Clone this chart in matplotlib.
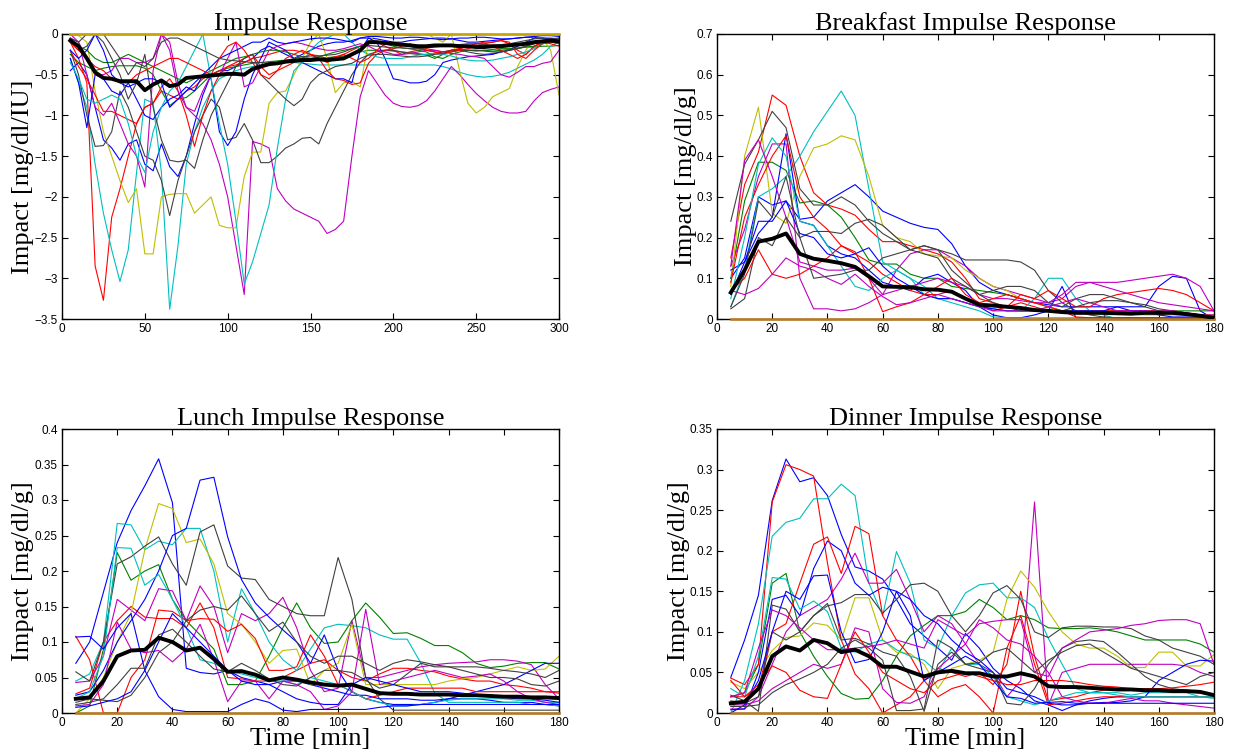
import numpy as np
import matplotlib
matplotlib.use("Agg")
import matplotlib.pyplot as plt
from matplotlib.ticker import FuncFormatter, MultipleLocator

# sample times (min)
t_ins = np.arange(5, 305, 5)     # insulin panel, 5..300
t_meal = np.arange(5, 185, 5)    # meal panels, 5..180

# matlab default colour order
C = {'b': (0, 0, 1), 'g': (0, 0.5, 0), 'r': (1, 0, 0), 'c': (0, 0.75, 0.75),
     'm': (0.75, 0, 0.75), 'y': (0.75, 0.75, 0), 'k': (0.25, 0.25, 0.25)}

# ---------------- insulin impulse responses ----------------
ins_blue1 = [-0.45, -0.35, -0.5, -0.9, -1.3, -1.4, -1.55, -1.35, -1.3, -1.6,
             -1.68, -1.35, -1.63, -1.75, -1.5, -1.1, -0.75, -0.5, -0.45, -0.45,
             -0.4, -0.35, -0.3, -0.2, -0.15, -0.2, -0.25, -0.3, -0.25, -0.2,
             -0.15, -0.12, -0.1, -0.1, -0.08, -0.05, -0.05, -0.06, -0.08, -0.1,
             -0.1, -0.08, -0.07, -0.06, -0.05, -0.05, -0.06, -0.08, -0.1, -0.1,
             -0.09, -0.08, -0.07, -0.06, -0.05, -0.04, -0.04, -0.05, -0.06, -0.05]
ins_green1 = [-0.25, -0.35, -0.4, -0.45, -0.42, -0.4, -0.39, -0.39, -0.39, -0.42,
              -0.5, -0.7, -0.88, -0.8, -0.78, -0.7, -0.6, -0.5, -0.45, -0.42,
              -0.4, -0.38, -0.36, -0.35, -0.34, -0.33, -0.32, -0.31, -0.3, -0.3,
              -0.3, -0.29, -0.28, -0.27, -0.25, -0.22, -0.2, -0.2, -0.2, -0.21,
              -0.22, -0.23, -0.24, -0.26, -0.3, -0.25, -0.2, -0.19, -0.2, -0.21,
              -0.2, -0.19, -0.18, -0.18, -0.17, -0.16, -0.16, -0.15, -0.15, -0.14]
ins_red1 = [-0.1, -0.3, -0.6, -2.85, -3.27, -2.25, -1.9, -1.5, -1.1, -0.9,
            -0.85, -0.7, -0.75, -0.8, -0.7, -0.65, -0.55, -0.5, -0.45, -0.4,
            -0.38, -0.35, -0.3, -0.28, -0.25, -0.22, -0.2, -0.2, -0.22, -0.25,
            -0.27, -0.3, -0.28, -0.25, -0.2, -0.15, -0.12, -0.1, -0.15, -0.2,
            -0.25, -0.22, -0.2, -0.18, -0.2, -0.22, -0.2, -0.18, -0.15, -0.12,
            -0.1, -0.1, -0.08, -0.12, -0.2, -0.25, -0.15, -0.1, -0.08, -0.1]
ins_cyan1 = [-0.3, -0.6, -0.9, -1.6, -2.2, -2.65, -3.04, -2.65, -1.7, -0.8,
             -0.85, -1.7, -3.38, -2.6, -1.6, -1.2, -0.9, -0.7, -0.55, -0.5,
             -0.45, -0.42, -0.4, -0.38, -0.36, -0.35, -0.34, -0.35, -0.36, -0.37,
             -0.38, -0.38, -0.38, -0.38, -0.38, -0.38, -0.38, -0.38, -0.38, -0.38,
             -0.38, -0.38, -0.38, -0.38, -0.38, -0.4, -0.43, -0.47, -0.5, -0.52,
             -0.53, -0.52, -0.5, -0.47, -0.42, -0.37, -0.32, -0.25, -0.15, -0.1]
ins_mag1 = [-0.05, -0.1, -0.5, -0.9, -1.0, -0.85, -1.1, -1.35, -1.5, -1.88,
            -0.45, 0.0, -0.1, -0.6, -0.9, -1.0, -1.1, -1.3, -1.6, -2.0,
            -2.6, -3.2, -1.32, -1.35, -1.4, -1.9, -2.05, -2.15, -2.2, -2.25,
            -2.3, -2.45, -2.4, -2.3, -1.5, -0.77, -0.45, -0.6, -0.75, -0.85,
            -0.89, -0.9, -0.88, -0.82, -0.7, -0.55, -0.4, -0.5, -0.62, -0.73,
            -0.82, -0.9, -0.95, -0.97, -0.97, -0.95, -0.82, -0.72, -0.68, -0.65]
ins_yel1 = [0.0, -0.02, -0.1, -0.7, -1.2, -1.5, -1.8, -2.07, -1.9, -2.7,
            -2.7, -2.0, -1.97, -1.96, -1.96, -2.2, -2.1, -2.0, -2.35, -2.38,
            -2.38, -1.75, -1.45, -1.45, -0.85, -0.72, -0.7, -0.5, -0.3, -0.1,
            0.0, -0.3, -0.72, -0.6, -0.58, -0.65, -0.1, 0.0, 0.0, 0.0,
            0.0, -0.02, 0.0, 0.0, -0.05, -0.1, 0.0, -0.45, -0.85, -0.97,
            -0.9, -0.77, -0.72, -0.67, -0.4, -0.2, -0.03, -0.05, -0.2, -0.75]
ins_gray1 = [-0.2, -0.5, -1.0, -1.38, -1.37, -1.2, -0.7, -0.9, -1.2, -1.5,
             -1.55, -1.8, -2.23, -1.8, -1.5, -1.2, -1.0, -0.8, -0.9, -1.3,
             -1.27, -1.1, -1.3, -1.58, -1.58, -1.5, -1.4, -1.35, -1.28, -1.27,
             -1.35, -1.1, -0.9, -0.7, -0.5, -0.35, -0.25, -0.22, -0.2, -0.2,
             -0.22, -0.24, -0.25, -0.25, -0.24, -0.22, -0.2, -0.2, -0.22, -0.24,
             -0.25, -0.24, -0.22, -0.2, -0.18, -0.15, -0.12, -0.1, -0.1, -0.12]
ins_blue2 = [-0.3, -0.6, -1.15, -0.5, -0.55, -0.7, -0.75, -0.6, -0.8, -1.0,
             -1.05, -0.9, -0.8, -0.75, -0.65, -0.7, -0.5, -0.55, -1.2, -1.37,
             -1.2, -0.8, -0.5, -0.3, -0.1, -0.15, -0.2, -0.3, -0.35, -0.4,
             -0.45, -0.5, -0.55, -0.55, -0.6, -0.2, -0.05, -0.1, -0.3, -0.55,
             -0.57, -0.6, -0.6, -0.58, -0.5, -0.35, -0.32, -0.3, -0.28, -0.27,
             -0.26, -0.25, -0.22, -0.2, -0.15, -0.1, -0.05, -0.05, -0.08, -0.1]
ins_green2 = [-0.1, -0.15, -0.2, -0.3, -0.35, -0.35, -0.3, -0.25, -0.3, -0.35,
              -0.4, -0.45, -0.5, -0.55, -0.6, -0.55, -0.5, -0.45, -0.4, -0.35,
              -0.3, -0.28, -0.25, -0.22, -0.2, -0.2, -0.22, -0.25, -0.28, -0.3,
              -0.28, -0.25, -0.22, -0.2, -0.18, -0.15, -0.12, -0.1, -0.12, -0.15,
              -0.17, -0.18, -0.2, -0.22, -0.28, -0.3, -0.25, -0.22, -0.2, -0.2,
              -0.2, -0.21, -0.2, -0.19, -0.18, -0.16, -0.15, -0.12, -0.1, -0.1]
ins_red2 = [-0.2, -0.4, -0.55, -0.75, -0.95, -0.95, -1.0, -1.05, -1.1, -0.9,
            -0.85, -0.65, -0.55, -0.7, -1.0, -1.38, -1.0, -0.7, -0.5, -0.4,
            -0.35, -0.3, -0.25, -0.4, -0.5, -0.45, -0.4, -0.35, -0.3, -0.25,
            -0.3, -0.45, -0.55, -0.57, -0.62, -0.6, -0.36, -0.25, -0.2, -0.18,
            -0.15, -0.12, -0.15, -0.2, -0.22, -0.25, -0.2, -0.18, -0.15, -0.12,
            -0.12, -0.15, -0.2, -0.25, -0.3, -0.25, -0.15, -0.1, -0.12, -0.15]
ins_cyan2 = [-0.35, -0.55, -0.8, -0.85, -0.8, -0.75, -0.8, -1.1, -1.5, -1.7,
             -1.2, -0.9, -0.7, -0.6, -0.4, -0.2, 0.0, -0.55, -1.1, -1.6,
             -2.3, -3.07, -2.8, -2.45, -2.1, -1.4, -0.8, -0.45, -0.35, -0.2,
             -0.1, -0.05, 0.0, 0.0, -0.1, -0.2, -0.25, -0.28, -0.3, -0.3,
             -0.3, -0.28, -0.26, -0.25, -0.24, -0.25, -0.27, -0.3, -0.32, -0.33,
             -0.33, -0.32, -0.3, -0.28, -0.25, -0.22, -0.18, -0.12, -0.08, -0.05]
ins_mag2 = [0.0, -0.1, -0.3, -0.5, -0.5, -0.45, -0.3, -0.3, -0.35, -0.35,
            -0.3, 0.0, -0.2, -0.7, -0.9, -0.95, -0.7, -0.5, -0.5, -0.3,
            -0.1, -0.65, -0.6, -0.4, -0.2, -0.15, -0.12, -0.1, -0.12, -0.15,
            -0.18, -0.2, -0.2, -0.18, -0.15, -0.12, -0.15, -0.2, -0.22, -0.25,
            -0.25, -0.24, -0.22, -0.2, -0.2, -0.22, -0.24, -0.25, -0.27, -0.28,
            -0.3, -0.4, -0.5, -0.53, -0.47, -0.4, -0.4, -0.36, -0.34, -0.2]
ins_gray2 = [-0.1, -0.2, -0.15, 0.0, -0.1, -0.3, -0.5, -0.8, -0.6, -0.25,
             -0.9, -1.3, -1.55, -1.57, -1.55, -1.65, -1.3, -1.0, -0.8, -0.6,
             -0.4, -0.3, -0.25, -0.5, -0.6, -0.7, -0.8, -0.88, -0.8, -0.6,
             -0.5, -0.45, -0.4, -0.38, -0.36, -0.3, -0.26, -0.25, -0.25, -0.26,
             -0.27, -0.28, -0.28, -0.27, -0.25, -0.24, -0.22, -0.2, -0.2, -0.2,
             -0.21, -0.22, -0.22, -0.2, -0.18, -0.15, -0.12, -0.1, -0.1, -0.1]
ins_gray3 = [-0.05, -0.1, 0.0, 0.0, 0.0, -0.15, -0.3, -0.5, -0.35, -0.4,
             -0.3, -0.1, -0.05, -0.05, -0.1, -0.15, -0.2, -0.25, -0.3, -0.32,
             -0.33, -0.34, -0.35, -0.35, -0.36, -0.35, -0.33, -0.3, -0.28, -0.27,
             -0.27, -0.26, -0.25, -0.22, -0.18, -0.15, -0.14, -0.15, -0.16, -0.17,
             -0.17, -0.18, -0.18, -0.17, -0.16, -0.15, -0.14, -0.13, -0.12, -0.12,
             -0.13, -0.14, -0.13, -0.12, -0.1, -0.08, -0.06, -0.05, -0.05, -0.06]
ins_blue3 = [-0.2, -0.3, -0.2, 0.0, -0.2, -0.5, -0.6, -0.65, -0.6, -0.55,
             -0.55, -0.6, -0.9, -0.8, -0.7, -0.6, -0.5, -0.4, -0.3, -0.25,
             -0.2, -0.15, -0.1, -0.1, -0.05, -0.1, -0.12, -0.1, -0.08, -0.06,
             -0.05, -0.05, -0.06, -0.08, -0.1, -0.05, -0.03, -0.03, -0.04, -0.05,
             -0.05, -0.04, -0.04, -0.05, -0.06, -0.07, -0.06, -0.05, -0.05, -0.04,
             -0.04, -0.05, -0.06, -0.06, -0.05, -0.04, -0.03, -0.02, -0.02, -0.03]
ins_red3 = [-0.1, -0.2, -0.3, -0.4, -0.45, -0.55, -0.6, -0.6, -0.5, -0.45,
            -0.4, -0.35, -0.3, -0.3, -0.35, -0.4, -0.45, -0.5, -0.3, -0.15,
            -0.1, -0.2, -0.35, -0.5, -0.55, -0.45, -0.3, -0.25, -0.2, -0.25,
            -0.3, -0.35, -0.3, -0.25, -0.3, -0.35, -0.3, -0.2, -0.12, -0.1,
            -0.12, -0.15, -0.18, -0.2, -0.22, -0.24, -0.22, -0.2, -0.18, -0.15,
            -0.12, -0.1, -0.08, -0.1, -0.25, -0.3, -0.2, -0.12, -0.1, -0.08]
ins_zero = [0.0] * 60
ins_mean = [-0.08, -0.15, -0.3, -0.47, -0.54, -0.55, -0.58, -0.58, -0.58, -0.69,
            -0.62, -0.57, -0.64, -0.62, -0.54, -0.53, -0.52, -0.51, -0.5, -0.49,
            -0.49, -0.5, -0.43, -0.4, -0.37, -0.36, -0.34, -0.33, -0.32, -0.32,
            -0.31, -0.32, -0.31, -0.3, -0.25, -0.2, -0.1, -0.1, -0.11, -0.12,
            -0.13, -0.14, -0.15, -0.15, -0.14, -0.14, -0.14, -0.15, -0.15, -0.16,
            -0.16, -0.15, -0.15, -0.14, -0.13, -0.12, -0.1, -0.09, -0.08, -0.09]

# ---------------- breakfast ----------------
bf_blue1 = [0.1, 0.15, 0.3, 0.28, 0.29, 0.245, 0.25, 0.29, 0.31, 0.33, 0.3, 0.265,
            0.25, 0.235, 0.225, 0.22, 0.185, 0.13, 0.09, 0.07, 0.06, 0.05, 0.04, 0.035,
            0.03, 0.03, 0.03, 0.03, 0.03, 0.03, 0.03, 0.08, 0.105, 0.1, 0.02, 0.0]
bf_green1 = [0.1, 0.29, 0.385, 0.385, 0.365, 0.285, 0.29, 0.28, 0.25, 0.2, 0.145, 0.135,
             0.135, 0.11, 0.1, 0.1, 0.08, 0.075, 0.07, 0.065, 0.06, 0.05, 0.04, 0.03,
             0.02, 0.02, 0.02, 0.02, 0.02, 0.02, 0.02, 0.02, 0.02, 0.02, 0.02, 0.02]
bf_red1 = [0.15, 0.33, 0.41, 0.55, 0.525, 0.4, 0.31, 0.28, 0.27, 0.255, 0.22, 0.19,
           0.19, 0.18, 0.17, 0.16, 0.14, 0.1, 0.05, 0.04, 0.03, 0.04, 0.03, 0.02,
           0.02, 0.02, 0.02, 0.02, 0.02, 0.02, 0.02, 0.02, 0.02, 0.015, 0.01, 0.01]
bf_cyan1 = [0.03, 0.12, 0.3, 0.32, 0.35, 0.4, 0.46, 0.51, 0.56, 0.5, 0.32, 0.14,
            0.12, 0.1, 0.08, 0.05, 0.05, 0.04, 0.03, 0.025, 0.02, 0.02, 0.05, 0.1,
            0.1, 0.05, 0.02, 0.01, 0.0, 0.0, 0.0, 0.0, 0.0, 0.0, 0.0, 0.0]
bf_mag1 = [0.13, 0.22, 0.35, 0.43, 0.43, 0.1, 0.025, 0.025, 0.02, 0.025, 0.04, 0.06,
           0.12, 0.16, 0.17, 0.17, 0.15, 0.13, 0.1, 0.08, 0.07, 0.06, 0.05, 0.04,
           0.05, 0.08, 0.09, 0.09, 0.09, 0.095, 0.1, 0.105, 0.11, 0.1, 0.08, 0.02]
bf_yel1 = [0.08, 0.4, 0.52, 0.26, 0.235, 0.35, 0.42, 0.43, 0.45, 0.44, 0.35, 0.23,
           0.2, 0.19, 0.16, 0.155, 0.15, 0.12, 0.1, 0.08, 0.07, 0.05, 0.04, 0.03,
           0.02, 0.02, 0.015, 0.015, 0.012, 0.012, 0.01, 0.01, 0.01, 0.01, 0.01, 0.01]
bf_gray1 = [0.24, 0.38, 0.44, 0.51, 0.47, 0.32, 0.28, 0.28, 0.3, 0.28, 0.24, 0.21,
            0.19, 0.17, 0.18, 0.17, 0.16, 0.145, 0.145, 0.145, 0.145, 0.14, 0.12, 0.07,
            0.04, 0.02, 0.01, 0.005, 0.003, 0.003, 0.003, 0.003, 0.003, 0.003, 0.003, 0.003]
bf_blue2 = [0.12, 0.14, 0.21, 0.25, 0.455, 0.24, 0.23, 0.18, 0.16, 0.15, 0.12, 0.09,
            0.08, 0.07, 0.1, 0.11, 0.09, 0.07, 0.03, 0.01, 0.003, 0.003, 0.01, 0.02,
            0.08, 0.003, 0.003, 0.003, 0.003, 0.003, 0.003, 0.003, 0.003, 0.003, 0.003, 0.003]
bf_red2 = [0.09, 0.25, 0.33, 0.4, 0.45, 0.3, 0.25, 0.22, 0.18, 0.16, 0.14, 0.11,
           0.09, 0.07, 0.06, 0.06, 0.07, 0.05, 0.04, 0.02, 0.03, 0.06, 0.05, 0.07,
           0.05, 0.03, 0.03, 0.05, 0.06, 0.065, 0.07, 0.075, 0.07, 0.06, 0.04, 0.02]
bf_cyan2 = [0.05, 0.2, 0.38, 0.445, 0.4, 0.24, 0.23, 0.18, 0.13, 0.08, 0.07, 0.1,
            0.12, 0.1, 0.06, 0.05, 0.04, 0.03, 0.02, 0.005, 0.003, 0.003, 0.003, 0.003,
            0.003, 0.003, 0.003, 0.003, 0.003, 0.003, 0.003, 0.003, 0.003, 0.003, 0.003, 0.003]
bf_mag2 = [0.13, 0.39, 0.44, 0.35, 0.25, 0.14, 0.13, 0.12, 0.12, 0.125, 0.1, 0.06,
           0.07, 0.08, 0.09, 0.1, 0.09, 0.08, 0.06, 0.05, 0.05, 0.045, 0.04, 0.04,
           0.06, 0.09, 0.09, 0.08, 0.07, 0.06, 0.05, 0.04, 0.035, 0.03, 0.025, 0.02]
bf_gray2 = [0.025, 0.05, 0.2, 0.18, 0.25, 0.2, 0.215, 0.215, 0.21, 0.235, 0.245, 0.23,
            0.2, 0.17, 0.16, 0.15, 0.1, 0.08, 0.06, 0.07, 0.08, 0.08, 0.07, 0.04,
            0.03, 0.05, 0.06, 0.06, 0.05, 0.04, 0.035, 0.025, 0.02, 0.015, 0.01, 0.005]
bf_blue3 = [0.06, 0.14, 0.24, 0.24, 0.29, 0.21, 0.2, 0.16, 0.15, 0.16, 0.175, 0.13,
            0.1, 0.08, 0.06, 0.05, 0.05, 0.04, 0.03, 0.025, 0.02, 0.02, 0.02, 0.02,
            0.02, 0.02, 0.02, 0.02, 0.03, 0.02, 0.02, 0.01, 0.005, 0.005, 0.005, 0.005]
bf_red3 = [0.07, 0.1, 0.17, 0.11, 0.1, 0.11, 0.13, 0.15, 0.18, 0.165, 0.1, 0.018,
           0.03, 0.04, 0.06, 0.08, 0.1, 0.06, 0.04, 0.05, 0.06, 0.05, 0.04, 0.03,
           0.02, 0.005, 0.003, 0.003, 0.003, 0.003, 0.003, 0.003, 0.003, 0.003, 0.003, 0.003]
bf_mag3 = [0.07, 0.06, 0.075, 0.11, 0.15, 0.13, 0.12, 0.1, 0.085, 0.11, 0.08, 0.055,
           0.035, 0.04, 0.05, 0.06, 0.05, 0.04, 0.03, 0.02, 0.02, 0.02, 0.02, 0.03,
           0.04, 0.05, 0.04, 0.03, 0.02, 0.02, 0.02, 0.02, 0.02, 0.015, 0.01, 0.01]
bf_gray3 = [0.03, 0.11, 0.29, 0.25, 0.35, 0.2, 0.1, 0.105, 0.11, 0.12, 0.12, 0.15,
            0.16, 0.17, 0.18, 0.17, 0.12, 0.09, 0.06, 0.04, 0.03, 0.02, 0.02, 0.02,
            0.02, 0.03, 0.04, 0.045, 0.045, 0.04, 0.03, 0.02, 0.015, 0.01, 0.01, 0.005]
bf_mean = [0.065, 0.12, 0.19, 0.197, 0.21, 0.16, 0.148, 0.143, 0.137, 0.128, 0.105, 0.08,
           0.079, 0.078, 0.073, 0.072, 0.067, 0.05, 0.035, 0.033, 0.03, 0.027, 0.022, 0.02,
           0.017, 0.015, 0.015, 0.015, 0.014, 0.013, 0.015, 0.015, 0.015, 0.012, 0.008, 0.003]

# ---------------- lunch ----------------
lu_blue1 = [0.07, 0.1, 0.17, 0.24, 0.285, 0.32, 0.358, 0.296, 0.063, 0.057, 0.055, 0.06,
            0.05, 0.045, 0.04, 0.045, 0.045, 0.04, 0.035, 0.03, 0.025, 0.025, 0.02, 0.02,
            0.02, 0.018, 0.018, 0.02, 0.02, 0.02, 0.018, 0.015, 0.015, 0.015, 0.012, 0.01]
lu_blue2 = [0.025, 0.03, 0.06, 0.1, 0.13, 0.16, 0.2, 0.25, 0.26, 0.328, 0.332, 0.248,
            0.188, 0.155, 0.135, 0.117, 0.1, 0.07, 0.11, 0.06, 0.03, 0.02, 0.015, 0.012,
            0.012, 0.012, 0.015, 0.02, 0.025, 0.03, 0.035, 0.04, 0.05, 0.06, 0.07, 0.07]
lu_blue3 = [0.107, 0.108, 0.09, 0.12, 0.14, 0.06, 0.023, 0.005, 0.002, 0.002, 0.002, 0.002,
            0.012, 0.02, 0.015, 0.004, 0.002, 0.005, 0.005, 0.005, 0.005, 0.005, 0.008, 0.01,
            0.01, 0.012, 0.012, 0.012, 0.012, 0.012, 0.012, 0.012, 0.012, 0.012, 0.012, 0.012]
lu_cyan1 = [0.045, 0.055, 0.1, 0.267, 0.265, 0.23, 0.242, 0.237, 0.26, 0.26, 0.2, 0.1,
            0.175, 0.14, 0.1, 0.075, 0.06, 0.09, 0.12, 0.125, 0.123, 0.12, 0.11, 0.104,
            0.104, 0.07, 0.028, 0.015, 0.015, 0.015, 0.015, 0.015, 0.015, 0.012, 0.012, 0.01]
lu_cyan2 = [0.02, 0.03, 0.08, 0.233, 0.232, 0.18, 0.195, 0.16, 0.12, 0.075, 0.07, 0.06,
            0.055, 0.05, 0.045, 0.045, 0.04, 0.05, 0.045, 0.04, 0.03, 0.02, 0.015, 0.01,
            0.01, 0.012, 0.015, 0.018, 0.02, 0.02, 0.02, 0.02, 0.018, 0.018, 0.015, 0.015]
lu_yel1 = [0.0, 0.02, 0.05, 0.1, 0.14, 0.23, 0.295, 0.288, 0.24, 0.245, 0.21, 0.14,
           0.125, 0.1, 0.07, 0.088, 0.09, 0.04, 0.06, 0.07, 0.125, 0.04, 0.04, 0.04,
           0.04, 0.04, 0.04, 0.045, 0.048, 0.05, 0.055, 0.06, 0.065, 0.06, 0.062, 0.08]
lu_gray1 = [0.058, 0.045, 0.1, 0.21, 0.22, 0.235, 0.248, 0.21, 0.18, 0.255, 0.265, 0.207,
            0.19, 0.188, 0.16, 0.15, 0.14, 0.137, 0.137, 0.219, 0.16, 0.05, 0.02, 0.004,
            0.004, 0.004, 0.004, 0.004, 0.004, 0.004, 0.004, 0.004, 0.004, 0.004, 0.004, 0.004]
lu_green1 = [0.0, 0.01, 0.09, 0.226, 0.187, 0.2, 0.209, 0.16, 0.13, 0.11, 0.09, 0.04,
             0.04, 0.045, 0.08, 0.12, 0.155, 0.12, 0.098, 0.1, 0.13, 0.155, 0.135, 0.112,
             0.113, 0.105, 0.095, 0.095, 0.085, 0.07, 0.064, 0.066, 0.07, 0.071, 0.071, 0.062]
lu_red1 = [0.027, 0.035, 0.1, 0.13, 0.15, 0.135, 0.133, 0.133, 0.12, 0.155, 0.12, 0.05,
           0.048, 0.045, 0.045, 0.05, 0.06, 0.07, 0.075, 0.06, 0.05, 0.045, 0.055, 0.063,
           0.063, 0.06, 0.058, 0.052, 0.048, 0.045, 0.045, 0.04, 0.038, 0.035, 0.03, 0.028]
lu_red2 = [0.108, 0.075, 0.0, 0.0, 0.05, 0.075, 0.145, 0.143, 0.13, 0.133, 0.132, 0.115,
           0.125, 0.105, 0.06, 0.06, 0.065, 0.11, 0.08, 0.04, 0.03, 0.02, 0.025, 0.03,
           0.035, 0.035, 0.035, 0.035, 0.035, 0.03, 0.03, 0.03, 0.03, 0.03, 0.03, 0.03]
lu_mag1 = [0.043, 0.045, 0.08, 0.16, 0.145, 0.13, 0.175, 0.172, 0.13, 0.179, 0.15, 0.085,
           0.14, 0.13, 0.14, 0.163, 0.12, 0.06, 0.03, 0.035, 0.13, 0.05, 0.05, 0.055,
           0.06, 0.065, 0.068, 0.07, 0.071, 0.072, 0.075, 0.075, 0.073, 0.068, 0.04, 0.02]
lu_mag2 = [0.01, 0.012, 0.04, 0.128, 0.09, 0.085, 0.088, 0.072, 0.09, 0.125, 0.075, 0.016,
           0.045, 0.045, 0.02, 0.045, 0.04, 0.03, 0.005, 0.01, 0.03, 0.146, 0.04, 0.045,
           0.05, 0.055, 0.06, 0.055, 0.05, 0.052, 0.055, 0.045, 0.03, 0.02, 0.015, 0.012]
lu_gray2 = [0.015, 0.02, 0.018, 0.016, 0.025, 0.05, 0.085, 0.1, 0.13, 0.145, 0.15, 0.145,
            0.165, 0.14, 0.115, 0.128, 0.1, 0.08, 0.07, 0.08, 0.08, 0.07, 0.06, 0.07,
            0.075, 0.072, 0.068, 0.065, 0.06, 0.055, 0.05, 0.05, 0.048, 0.04, 0.038, 0.045]
lu_gray3 = [0.012, 0.015, 0.02, 0.04, 0.063, 0.063, 0.11, 0.118, 0.1, 0.08, 0.062, 0.058,
            0.07, 0.06, 0.048, 0.04, 0.038, 0.05, 0.06, 0.06, 0.057, 0.046, 0.035, 0.04,
            0.055, 0.07, 0.065, 0.065, 0.065, 0.065, 0.063, 0.06, 0.058, 0.055, 0.05, 0.06]
lu_blue4 = [0.008, 0.01, 0.015, 0.02, 0.03, 0.06, 0.1, 0.14, 0.12, 0.1, 0.08, 0.06,
            0.045, 0.04, 0.04, 0.03, 0.02, 0.015, 0.012, 0.012, 0.04, 0.05, 0.045, 0.04,
            0.035, 0.03, 0.03, 0.03, 0.028, 0.025, 0.025, 0.022, 0.02, 0.02, 0.018, 0.015]
lu_mean = [0.02, 0.022, 0.045, 0.08, 0.088, 0.089, 0.106, 0.1, 0.088, 0.092, 0.076, 0.058,
           0.059, 0.054, 0.046, 0.05, 0.047, 0.043, 0.04, 0.0385, 0.04, 0.034, 0.028, 0.027,
           0.027, 0.026, 0.026, 0.026, 0.025, 0.025, 0.024, 0.023, 0.023, 0.022, 0.022, 0.021]

# ---------------- dinner ----------------
dn_blue1 = [0.044, 0.09, 0.145, 0.262, 0.313, 0.285, 0.29, 0.268, 0.22, 0.18, 0.175, 0.165,
            0.14, 0.11, 0.095, 0.08, 0.065, 0.098, 0.08, 0.055, 0.04, 0.03, 0.015, 0.01,
            0.003, 0.01, 0.015, 0.018, 0.02, 0.02, 0.02, 0.02, 0.02, 0.02, 0.02, 0.02]
dn_red1 = [0.043, 0.035, 0.06, 0.26, 0.306, 0.3, 0.292, 0.185, 0.09, 0.048, 0.03, 0.0,
           0.01, 0.02, 0.04, 0.055, 0.05, 0.045, 0.05, 0.035, 0.06, 0.15, 0.07, 0.015,
           0.018, 0.02, 0.025, 0.028, 0.03, 0.03, 0.028, 0.027, 0.026, 0.026, 0.025, 0.022]
dn_cyan1 = [0.0, 0.04, 0.11, 0.218, 0.235, 0.24, 0.264, 0.264, 0.282, 0.268, 0.16, 0.12,
            0.199, 0.16, 0.09, 0.08, 0.12, 0.148, 0.158, 0.16, 0.142, 0.142, 0.13, 0.092,
            0.06, 0.03, 0.025, 0.025, 0.025, 0.022, 0.025, 0.025, 0.025, 0.025, 0.02, 0.018]
dn_cyan2 = [0.03, 0.02, 0.07, 0.167, 0.165, 0.128, 0.138, 0.125, 0.08, 0.075, 0.085, 0.09,
            0.078, 0.07, 0.065, 0.05, 0.08, 0.06, 0.06, 0.045, 0.02, 0.015, 0.01, 0.015,
            0.02, 0.025, 0.025, 0.025, 0.022, 0.02, 0.02, 0.02, 0.02, 0.02, 0.02, 0.02]
dn_red2 = [0.02, 0.02, 0.03, 0.1, 0.11, 0.16, 0.208, 0.217, 0.172, 0.23, 0.221, 0.12,
           0.09, 0.07, 0.04, 0.02, 0.03, 0.035, 0.02, 0.0, 0.08, 0.12, 0.06, 0.01,
           0.012, 0.015, 0.018, 0.02, 0.02, 0.02, 0.02, 0.02, 0.02, 0.02, 0.02, 0.02]
dn_blue2 = [0.004, 0.005, 0.05, 0.14, 0.145, 0.12, 0.178, 0.212, 0.2, 0.16, 0.145, 0.155,
            0.15, 0.14, 0.12, 0.11, 0.09, 0.075, 0.065, 0.05, 0.03, 0.025, 0.02, 0.012,
            0.01, 0.01, 0.012, 0.013, 0.013, 0.015, 0.02, 0.04, 0.05, 0.06, 0.065, 0.064]
dn_blue3 = [0.0, 0.01, 0.04, 0.1, 0.15, 0.14, 0.169, 0.17, 0.1, 0.062, 0.066, 0.1,
            0.15, 0.12, 0.04, 0.05, 0.06, 0.07, 0.06, 0.04, 0.02, 0.018, 0.012, 0.013,
            0.014, 0.012, 0.012, 0.012, 0.012, 0.012, 0.012, 0.012, 0.012, 0.012, 0.012, 0.012]
dn_green1 = [0.02, 0.025, 0.06, 0.16, 0.172, 0.1, 0.07, 0.045, 0.024, 0.017, 0.018, 0.04,
             0.07, 0.095, 0.108, 0.12, 0.12, 0.125, 0.14, 0.13, 0.115, 0.12, 0.115, 0.105,
             0.104, 0.104, 0.105, 0.103, 0.1, 0.095, 0.09, 0.09, 0.09, 0.09, 0.085, 0.075]
dn_mag1 = [0.005, 0.005, 0.02, 0.06, 0.1, 0.12, 0.13, 0.14, 0.165, 0.197, 0.16, 0.16,
           0.177, 0.14, 0.1, 0.12, 0.11, 0.085, 0.06, 0.05, 0.02, 0.04, 0.26, 0.01,
           0.05, 0.055, 0.06, 0.06, 0.06, 0.06, 0.06, 0.06, 0.06, 0.058, 0.05, 0.045]
dn_mag2 = [0.01, 0.01, 0.015, 0.03, 0.04, 0.05, 0.06, 0.055, 0.06, 0.105, 0.1, 0.03,
           0.013, 0.012, 0.02, 0.055, 0.07, 0.085, 0.115, 0.105, 0.09, 0.085, 0.07, 0.05,
           0.02, 0.015, 0.012, 0.012, 0.015, 0.018, 0.015, 0.015, 0.012, 0.01, 0.008, 0.006]
dn_mag3 = [0.02, 0.025, 0.08, 0.127, 0.12, 0.105, 0.09, 0.078, 0.078, 0.08, 0.082, 0.085,
           0.09, 0.085, 0.08, 0.115, 0.105, 0.095, 0.11, 0.113, 0.115, 0.115, 0.05, 0.045,
           0.08, 0.09, 0.1, 0.102, 0.104, 0.108, 0.11, 0.114, 0.115, 0.115, 0.11, 0.06]
dn_yel1 = [0.038, 0.03, 0.05, 0.077, 0.093, 0.095, 0.111, 0.108, 0.09, 0.142, 0.142, 0.09,
           0.075, 0.073, 0.06, 0.03, 0.055, 0.06, 0.065, 0.075, 0.14, 0.175, 0.155, 0.125,
           0.1, 0.085, 0.08, 0.08, 0.07, 0.056, 0.056, 0.075, 0.075, 0.058, 0.058, 0.072]
dn_gray1 = [0.015, 0.012, 0.02, 0.1, 0.09, 0.1, 0.12, 0.132, 0.136, 0.146, 0.146, 0.123,
            0.14, 0.158, 0.16, 0.15, 0.12, 0.1, 0.12, 0.148, 0.157, 0.14, 0.1, 0.093,
            0.105, 0.107, 0.107, 0.106, 0.106, 0.104, 0.095, 0.09, 0.08, 0.075, 0.07, 0.06]
dn_gray2 = [0.022, 0.015, 0.002, 0.133, 0.128, 0.1, 0.12, 0.135, 0.09, 0.092, 0.085, 0.075,
            0.07, 0.045, 0.002, 0.06, 0.075, 0.06, 0.055, 0.05, 0.012, 0.01, 0.03, 0.06,
            0.08, 0.088, 0.09, 0.088, 0.075, 0.06, 0.045, 0.035, 0.03, 0.028, 0.025, 0.022]
dn_gray3 = [0.008, 0.008, 0.01, 0.025, 0.035, 0.042, 0.05, 0.06, 0.08, 0.09, 0.08, 0.065,
            0.003, 0.003, 0.005, 0.09, 0.08, 0.06, 0.062, 0.075, 0.08, 0.065, 0.05, 0.065,
            0.075, 0.083, 0.085, 0.075, 0.065, 0.055, 0.05, 0.045, 0.04, 0.035, 0.045, 0.05]
dn_red3 = [0.04, 0.02, 0.035, 0.058, 0.05, 0.028, 0.02, 0.018, 0.06, 0.1, 0.075, 0.05,
           0.04, 0.03, 0.025, 0.04, 0.045, 0.05, 0.045, 0.04, 0.035, 0.035, 0.04, 0.04,
           0.04, 0.038, 0.035, 0.033, 0.032, 0.03, 0.03, 0.03, 0.031, 0.033, 0.035, 0.038]
dn_mean = [0.012, 0.014, 0.03, 0.07, 0.082, 0.077, 0.09, 0.086, 0.075, 0.078, 0.07, 0.057,
           0.057, 0.051, 0.045, 0.05, 0.052, 0.049, 0.049, 0.045, 0.045, 0.049, 0.045, 0.033,
           0.032, 0.032, 0.031, 0.03, 0.029, 0.029, 0.028, 0.028, 0.027, 0.027, 0.026, 0.022]
meal_zero = [0.0] * 36

# (series, colour) per panel, drawn in this order
ins_lines = [(ins_blue1, 'b'), (ins_green1, 'g'), (ins_red1, 'r'), (ins_cyan1, 'c'),
             (ins_mag1, 'm'), (ins_yel1, 'y'), (ins_gray1, 'k'), (ins_blue2, 'b'),
             (ins_green2, 'g'), (ins_red2, 'r'), (ins_cyan2, 'c'), (ins_mag2, 'm'),
             (ins_gray2, 'k'), (ins_blue3, 'b'), (ins_red3, 'r'), (ins_gray3, 'k')]
bf_lines = [(bf_blue1, 'b'), (bf_green1, 'g'), (bf_red1, 'r'), (bf_cyan1, 'c'),
            (bf_mag1, 'm'), (bf_yel1, 'y'), (bf_gray1, 'k'), (bf_blue2, 'b'),
            (bf_red2, 'r'), (bf_cyan2, 'c'), (bf_mag2, 'm'), (bf_gray2, 'k'),
            (bf_blue3, 'b'), (bf_red3, 'r'), (bf_mag3, 'm'), (bf_gray3, 'k')]
lu_lines = [(lu_blue1, 'b'), (lu_green1, 'g'), (lu_red1, 'r'), (lu_cyan1, 'c'),
            (lu_mag1, 'm'), (lu_yel1, 'y'), (lu_gray1, 'k'), (lu_blue2, 'b'),
            (lu_red2, 'r'), (lu_cyan2, 'c'), (lu_mag2, 'm'), (lu_gray2, 'k'),
            (lu_blue3, 'b'), (lu_gray3, 'k'), (lu_blue4, 'b')]
dn_lines = [(dn_blue1, 'b'), (dn_green1, 'g'), (dn_red1, 'r'), (dn_cyan1, 'c'),
            (dn_mag1, 'm'), (dn_yel1, 'y'), (dn_gray1, 'k'), (dn_blue2, 'b'),
            (dn_red2, 'r'), (dn_cyan2, 'c'), (dn_mag2, 'm'), (dn_gray2, 'k'),
            (dn_blue3, 'b'), (dn_red3, 'r'), (dn_mag3, 'm'), (dn_gray3, 'k')]

plt.rcParams['font.family'] = 'Liberation Sans'
serif = 'Liberation Serif'

fig = plt.figure(figsize=(12.36, 7.55), dpi=100)
W, H = 1236.0, 755.0

# tick labels with a real minus sign, like the original
fmt = FuncFormatter(lambda v, pos: ('%g' % v).replace('-', '\u2212'))

panels = [
    # title, ylabel, t, lines, mean, zero line + colour, xmax, ylim, ystep, xstep, axes box px, ylabel x
    ("Impulse Response", "Impact [mg/dl/IU]", t_ins, ins_lines, ins_mean, ins_zero, '#c8a400',
     300, (-3.5, 0), 0.5, 50, (62, 34, 559, 319), -0.078),
    ("Breakfast Impulse Response", "Impact [mg/dl/g]", t_meal, bf_lines, bf_mean, meal_zero, '#b97a1e',
     180, (0, 0.7), 0.1, 20, (717, 34, 1214, 319), -0.062),
    ("Lunch Impulse Response", "Impact [mg/dl/g]", t_meal, lu_lines, lu_mean, meal_zero, '#b97a1e',
     180, (0, 0.4), 0.05, 20, (62, 429, 559, 713), -0.078),
    ("Dinner Impulse Response", "Impact [mg/dl/g]", t_meal, dn_lines, dn_mean, meal_zero, '#b97a1e',
     180, (0, 0.35), 0.05, 20, (717, 429, 1214, 713), -0.076),
]

for i, (title, ylab, t, lines, mean, zero, zcol, xmax, ylim, ystep, xstep, box, ylx) in enumerate(panels):
    x0, y0, x1, y1 = box
    ax = fig.add_axes([x0 / W, 1 - y1 / H, (x1 - x0) / W, (y1 - y0) / H])
    for vals, ck in lines:
        ax.plot(t, vals, color=C[ck], lw=0.8)
    # flat zero response sits on the frame, drawn over it
    ax.plot(t, zero, color=zcol, lw=1.8, zorder=3, clip_on=False)
    ax.plot(t, mean, color='k', lw=2.8, solid_joinstyle='round', zorder=4)

    ax.set_xlim(0, xmax)
    ax.set_ylim(*ylim)
    ax.xaxis.set_major_locator(MultipleLocator(xstep))
    ax.yaxis.set_major_locator(MultipleLocator(ystep))
    ax.xaxis.set_major_formatter(fmt)
    ax.yaxis.set_major_formatter(fmt)
    ax.tick_params(direction='in', top=True, right=True, length=4, width=0.8,
                   labelsize=8.5, pad=3)
    for s in ax.spines.values():
        s.set_linewidth(1.0)

    ax.set_title(title, fontfamily=serif, fontsize=19, pad=3)
    ax.set_ylabel(ylab, fontfamily=serif, fontsize=19, va='center')
    ax.yaxis.set_label_coords(ylx, 0.5)
    if i >= 2:
        ax.set_xlabel("Time [min]", fontfamily=serif, fontsize=19, labelpad=-1)

fig.savefig("out.png", dpi=100, facecolor='white')
